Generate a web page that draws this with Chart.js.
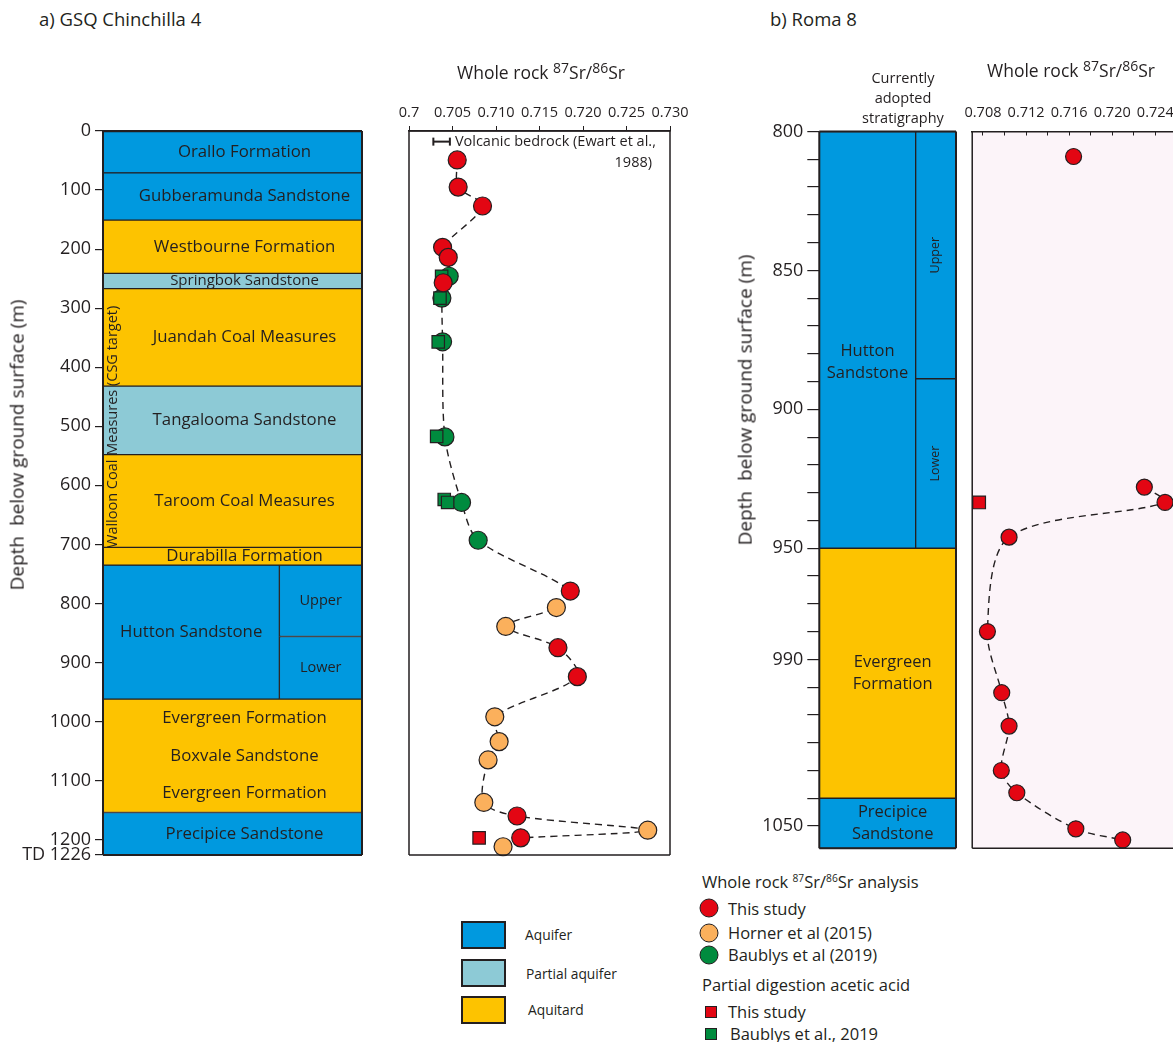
<!DOCTYPE html>
<html lang="en">
<head>
<meta charset="utf-8">
<title>Whole rock 87Sr/86Sr – GSQ Chinchilla 4 and Roma 8</title>
<script src="https://cdn.jsdelivr.net/npm/chart.js@4.4.1/dist/chart.umd.min.js"></script>
<style>
  html, body { margin: 0; padding: 0; width: 1173px; height: 1042px; overflow: hidden; background: #fff; }
  body { position: relative; font-family: 'Open Sans', 'DejaVu Sans', sans-serif; color: #231f20; }
  canvas { position: absolute; }
  .t { position: absolute; white-space: pre; line-height: 1.2; transform: translateY(-50%); }
  .c { transform: translate(-50%, -50%); text-align: center; }
  .v { transform: translate(-50%, -50%) rotate(-90deg); }
  sup { font-size: 0.8em; vertical-align: 0.42em; line-height: 0; }
  sup.s { font-size: 0.62em; vertical-align: 0.55em; }
  .sw { position: absolute; box-sizing: border-box; width: 45px; height: 28px; border: 2px solid #231f20; }
  .dot, .sq { position: absolute; box-sizing: border-box; border: 1.3px solid #231f20; transform: translate(-50%, -50%); }
  .dot { width: 19px; height: 19px; border-radius: 50%; }
  .sq { width: 12px; height: 12px; }
</style>
</head>
<body>

<canvas id="colA" width="366" height="770" style="left:0;top:100px"></canvas>
<canvas id="srA" width="330" height="830" style="left:370px;top:40px"></canvas>
<canvas id="colB" width="260" height="770" style="left:700px;top:100px"></canvas>
<canvas id="srB" width="250" height="830" style="left:950px;top:40px"></canvas>

<div class="t" style="left:39px;top:19px;font-size:18.5px">a) GSQ Chinchilla 4</div>
<div class="t" style="left:770px;top:19px;font-size:18.5px">b) Roma 8</div>
<div class="t c" style="left:541px;top:72px;font-size:17.5px">Whole rock <sup>87</sup>Sr/<sup>86</sup>Sr</div>
<div class="t" style="left:987px;top:70px;font-size:17.5px">Whole rock <sup>87</sup>Sr/<sup>86</sup>Sr</div>
<div class="t c" style="left:903px;top:98px;font-size:14.5px;line-height:20px">Currently
adopted
stratigraphy</div>
<div class="t v" style="left:17px;top:445px;font-size:19px">Depth  below ground surface (m)</div>
<div class="t v" style="left:745px;top:400px;font-size:19px">Depth  below ground surface (m)</div>

<!-- hydrostratigraphy key -->
<div class="sw" data-fill="aquifer" style="left:461px;top:921px"></div>
<div class="sw" data-fill="partial" style="left:461px;top:959px"></div>
<div class="sw" data-fill="aquitard" style="left:461px;top:996px"></div>
<div class="t" style="left:525px;top:935px;font-size:13.8px">Aquifer</div>
<div class="t" style="left:526px;top:974px;font-size:13.8px">Partial aquifer</div>
<div class="t" style="left:528px;top:1010px;font-size:13.8px">Aquitard</div>

<!-- sample key -->
<div class="t" style="left:702px;top:882px;font-size:16.5px">Whole rock <sup class="s">87</sup>Sr/<sup class="s">86</sup>Sr analysis</div>
<div class="dot" data-fill="thisStudy" style="left:709px;top:908px"></div>
<div class="t" style="left:728px;top:909px;font-size:16.5px">This study</div>
<div class="dot" data-fill="horner" style="left:709px;top:933px"></div>
<div class="t" style="left:728px;top:933px;font-size:16.5px">Horner et al (2015)</div>
<div class="dot" data-fill="baublys" style="left:709px;top:955px"></div>
<div class="t" style="left:728px;top:955px;font-size:16.5px">Baublys et al (2019)</div>
<div class="t" style="left:702px;top:985px;font-size:16.5px">Partial digestion acetic acid</div>
<div class="sq" data-fill="thisStudy" style="left:711px;top:1012px"></div>
<div class="t" style="left:728px;top:1012px;font-size:16.5px">This study</div>
<div class="sq" data-fill="baublys" style="left:711px;top:1034px"></div>
<div class="t" style="left:730px;top:1034px;font-size:16.5px">Baublys et al., 2019</div>

<script>
// ---------------------------------------------------------------------------
// Stratigraphy, depths in m below ground surface
// ---------------------------------------------------------------------------
const chinLayers = [
  { name: 'Orallo Formation',       top: 0,    base: 71,   kind: 'aquifer',  span: 'full' },
  { name: 'Gubberamunda Sandstone', top: 71,   base: 151,  kind: 'aquifer',  span: 'full' },
  { name: 'Westbourne Formation',   top: 151,  base: 241,  kind: 'aquitard', span: 'full' },
  { name: 'Springbok Sandstone',    top: 241,  base: 267,  kind: 'partial',  span: 'full' },
  { name: 'Juandah Coal Measures',  top: 267,  base: 432,  kind: 'aquitard', span: 'full' },
  { name: 'Tangalooma Sandstone',   top: 432,  base: 548,  kind: 'partial',  span: 'full' },
  { name: 'Taroom Coal Measures',   top: 548,  base: 705,  kind: 'aquitard', span: 'full' },
  { name: 'Durabilla Formation',    top: 705,  base: 735,  kind: 'aquitard', span: 'full' },
  { name: 'Hutton Sandstone',       top: 735,  base: 962,  kind: 'aquifer',  span: 'unit' },
  { name: 'Upper',                  top: 735,  base: 856,  kind: 'aquifer',  span: 'member' },
  { name: 'Lower',                  top: 856,  base: 962,  kind: 'aquifer',  span: 'member' },
  { name: ['Evergreen Formation', 'Boxvale Sandstone', 'Evergreen Formation'],
                                    top: 962,  base: 1154, kind: 'aquitard', span: 'full' },
  { name: 'Precipice Sandstone',    top: 1154, base: 1226, kind: 'aquifer',  span: 'full' }
];
const chinWalloon = { name: 'Walloon Coal Measures (CSG target)', top: 267, base: 735 };

const romaLayers = [
  { name: 'Hutton\nSandstone',    top: 800,  base: 950,  kind: 'aquifer',  span: 'unit' },
  { name: 'Upper',                top: 800,  base: 889,  kind: 'aquifer',  span: 'member' },
  { name: 'Lower',                top: 889,  base: 950,  kind: 'aquifer',  span: 'member' },
  { name: 'Evergreen\nFormation', top: 950,  base: 1040, kind: 'aquitard', span: 'full' },
  { name: 'Precipice\nSandstone', top: 1040, base: 1058, kind: 'aquifer',  span: 'full' }
];

// ---------------------------------------------------------------------------
// Whole rock 87Sr/86Sr, GSQ Chinchilla 4
// ---------------------------------------------------------------------------
const chinThisStudySr    = [0.70554, 0.70565, 0.70845, 0.70386, 0.70451, 0.70393, 0.71854, 0.71712, 0.71935, 0.71242, 0.71284];
const chinThisStudyDepth = [49, 95, 127, 197, 214, 257, 779, 875, 924, 1160, 1197];
const chinHornerSr       = [0.71694, 0.71112, 0.70986, 0.71036, 0.70909, 0.70860, 0.72744, 0.71081];
const chinHornerDepth    = [807, 839, 992, 1034, 1065, 1137, 1184, 1212];
const chinBaublysSr      = [0.70462, 0.70378, 0.70386, 0.70413, 0.70604, 0.70795];
const chinBaublysDepth   = [246, 283, 357, 518, 629, 693];
// partial digestion in acetic acid
const chinAceticSr           = [0.70806];
const chinAceticDepth        = [1197];
const chinAceticBaublysSr    = [0.70375, 0.70356, 0.70336, 0.70318, 0.70405, 0.70444];
const chinAceticBaublysDepth = [246, 283, 357, 517, 624, 629];
// volcanic bedrock range, Ewart et al. (1988)
const volcanicSr = [0.7028, 0.7047];
const volcanicDepth = 18;

// ---------------------------------------------------------------------------
// Whole rock 87Sr/86Sr, Roma 8
// ---------------------------------------------------------------------------
const romaThisStudySr    = [0.71641, 0.72298, 0.72490, 0.71042, 0.70841, 0.70974, 0.71042, 0.70970, 0.71114, 0.71662, 0.72097];
const romaThisStudyDepth = [809, 928, 933.5, 946, 980, 1002, 1014, 1030, 1038, 1051, 1055];
const romaAceticSr       = [0.70764];
const romaAceticDepth    = [933.5];

// ---------------------------------------------------------------------------
// Axis ticks
// ---------------------------------------------------------------------------
const chinDepthTicks = [0, 100, 200, 300, 400, 500, 600, 700, 800, 900, 1000, 1100, 1200, 1226];
const chinSrTicks    = [0.700, 0.705, 0.710, 0.715, 0.720, 0.725, 0.730];
const romaDepthLabels = [800, 850, 900, 950, 990, 1050];
const romaSrTicks    = [0.708, 0.710, 0.712, 0.714, 0.716, 0.718, 0.720, 0.722, 0.724, 0.726];
const romaSrLabels   = [0.708, 0.712, 0.716, 0.720, 0.724];

// ---------------------------------------------------------------------------
// Styling
// ---------------------------------------------------------------------------
const INK = '#231f20';
const FONT = "'Open Sans', 'DejaVu Sans', sans-serif";
const COLORS = {
  aquifer: '#0099df', partial: '#8dcad6', aquitard: '#fdc300',
  thisStudy: '#e30613', horner: '#fbb05c', baublys: '#008b3e'
};

Chart.defaults.font.family = FONT;
Chart.defaults.color = INK;

document.querySelectorAll('[data-fill]').forEach(el => {
  el.style.background = COLORS[el.dataset.fill];
});

const pts = (sr, depth) => sr.map((v, i) => ({ x: v, y: depth[i] }));

// dashed profile joining whole rock samples in depth order
function profile(groups, keep) {
  return groups.flatMap(([sr, depth]) => pts(sr, depth))
    .filter(keep)
    .sort((a, b) => a.y - b.y);
}

function markers(sr, depth, color, style, radius, order) {
  return {
    data: pts(sr, depth),
    pointStyle: style,
    pointRadius: radius,
    backgroundColor: color,
    pointBackgroundColor: color,
    pointBorderColor: INK,
    pointBorderWidth: 1.2,
    order,
    clip: false
  };
}

function dashed(data) {
  return {
    data, showLine: true, borderColor: INK, borderWidth: 1.4, borderDash: [7, 5],
    pointRadius: 0, tension: 0.3, order: 10, clip: false
  };
}

// outline (and optional fill) of the chart area
function framePlugin({ width = 1.5, sides = 'trbl', fill = null } = {}) {
  return {
    id: 'frame',
    beforeDraw(chart) {
      if (!fill) return;
      const { ctx, chartArea: a } = chart;
      ctx.save();
      ctx.fillStyle = fill;
      ctx.fillRect(a.left, a.top, a.right - a.left, a.bottom - a.top);
      ctx.restore();
    },
    afterDatasetsDraw(chart) {
      const { ctx, chartArea: a } = chart;
      ctx.save();
      ctx.strokeStyle = INK;
      ctx.lineWidth = width;
      ctx.beginPath();
      if (sides.includes('t')) { ctx.moveTo(a.left, a.top); ctx.lineTo(a.right, a.top); }
      if (sides.includes('r')) { ctx.moveTo(a.right, a.top); ctx.lineTo(a.right, a.bottom); }
      if (sides.includes('b')) { ctx.moveTo(a.left, a.bottom); ctx.lineTo(a.right, a.bottom); }
      if (sides.includes('l')) { ctx.moveTo(a.left, a.top); ctx.lineTo(a.left, a.bottom); }
      ctx.stroke();
      ctx.restore();
    }
  };
}

// formation names written into the column
function stratLabelPlugin(cfg) {
  return {
    id: 'stratLabels',
    afterDatasetsDraw(chart) {
      const { ctx, scales: { x, y }, chartArea } = chart;
      ctx.save();
      ctx.fillStyle = INK;
      ctx.textAlign = 'center';
      ctx.textBaseline = 'middle';
      cfg.layers.forEach(layer => {
        const [f0, f1] = cfg.spans[layer.span];
        const yTop = y.getPixelForValue(layer.top);
        const yBase = y.getPixelForValue(layer.base);
        const member = layer.span === 'member';
        let cx = (x.getPixelForValue(f0) + x.getPixelForValue(f1)) / 2;
        if (layer.span === 'full') cx += cfg.shift;
        const size = member ? cfg.memberSize : (yBase - yTop < 17 ? cfg.smallSize : cfg.size);
        ctx.font = `${size}px ${FONT}`;

        if (Array.isArray(layer.name)) {
          // several units share one box: spread their names evenly down it
          const n = layer.name.length;
          layer.name.forEach((t, i) => ctx.fillText(t, cx, yTop + (yBase - yTop) * (2 * i + 1) / (2 * n)));
          return;
        }
        const at = cfg.labelAt && cfg.labelAt[layer.name];
        const cy = at !== undefined ? y.getPixelForValue(at) : (yTop + yBase) / 2;
        if (member && cfg.rotateMembers) {
          ctx.save();
          ctx.translate(cx, cy);
          ctx.rotate(-Math.PI / 2);
          ctx.fillText(layer.name, 0, 0);
          ctx.restore();
          return;
        }
        const lines = layer.name.split('\n');
        const lh = size * 1.3;
        lines.forEach((t, i) => ctx.fillText(t, cx, cy + (i - (lines.length - 1) / 2) * lh));
      });

      if (cfg.group) {
        const cy = (y.getPixelForValue(cfg.group.top) + y.getPixelForValue(cfg.group.base)) / 2;
        ctx.font = `${cfg.groupSize}px ${FONT}`;
        ctx.translate(chartArea.left + 10, cy);
        ctx.rotate(-Math.PI / 2);
        ctx.fillText(cfg.group.name, 0, 0);
      }
      ctx.restore();
    }
  };
}

function columnChart(id, layers, cfg) {
  const datasets = Object.entries(cfg.spans).map(([span, [f0, f1]]) => {
    const rows = layers.filter(l => l.span === span);
    return {
      data: rows.map(l => ({ x: (f0 + f1) / 2, y: [l.top, l.base] })),
      backgroundColor: rows.map(l => COLORS[l.kind]),
      borderColor: INK,
      borderWidth: 1,
      borderSkipped: false,
      grouped: false,
      barThickness: (f1 - f0) * cfg.areaWidth,
      clip: false
    };
  }).filter(ds => ds.data.length);

  return new Chart(document.getElementById(id), {
    type: 'bar',
    data: { datasets },
    options: {
      responsive: false,
      animation: false,
      events: [],
      layout: { padding: cfg.padding },
      plugins: { legend: { display: false }, tooltip: { enabled: false } },
      scales: {
        x: { type: 'linear', min: 0, max: 1, offset: false, display: false },
        y: {
          type: 'linear', reverse: true, min: cfg.min, max: cfg.max,
          afterFit: s => { s.width = cfg.axisWidth; },
          afterBuildTicks: s => { s.ticks = cfg.ticks.map(v => ({ value: v })); },
          ticks: { autoSkip: false, padding: 4, font: { size: 18 }, color: INK, callback: cfg.tickLabel },
          grid: { drawOnChartArea: false, tickLength: cfg.tickLength, color: INK, lineWidth: 1.2 },
          border: { display: false }
        }
      }
    },
    plugins: [framePlugin({ width: 2 }), stratLabelPlugin(cfg.labels)]
  });
}

function srChart(id, cfg) {
  return new Chart(document.getElementById(id), {
    type: 'scatter',
    data: { datasets: cfg.datasets },
    options: {
      responsive: false,
      animation: false,
      events: [],
      layout: { padding: cfg.padding },
      plugins: { legend: { display: false }, tooltip: { enabled: false } },
      scales: {
        x: {
          type: 'linear', position: 'top', min: cfg.xMin, max: cfg.xMax,
          afterFit: s => { s.height = cfg.axisHeight; },
          afterBuildTicks: s => { s.ticks = cfg.ticks.map(v => ({ value: v })); },
          ticks: { autoSkip: false, maxRotation: 0, padding: cfg.labelPad, font: { size: 14.5 }, color: INK, callback: cfg.tickLabel },
          grid: { drawOnChartArea: false, tickLength: cfg.tickLength, color: INK, lineWidth: 1 },
          border: { display: true, color: INK, width: 1.5 }
        },
        y: { type: 'linear', display: false, reverse: true, min: cfg.yMin, max: cfg.yMax }
      }
    },
    plugins: cfg.plugins
  });
}

// ---------------------------------------------------------------------------
// a) GSQ Chinchilla 4
// ---------------------------------------------------------------------------
const chinSpans = { full: [0, 1], unit: [0, 0.681], member: [0.681, 1] };

columnChart('colA', chinLayers, {
  spans: chinSpans,
  areaWidth: 259,
  axisWidth: 103,
  padding: { top: 31, right: 4, bottom: 15, left: 0 },
  min: 0, max: 1226,
  ticks: chinDepthTicks,
  tickLength: 8,
  tickLabel: v => (v === 1226 ? 'TD 1226' : String(v)),
  labels: {
    layers: chinLayers, spans: chinSpans, shift: 12,
    size: 16.8, smallSize: 15, memberSize: 14.5, rotateMembers: false,
    group: chinWalloon, groupSize: 14.5
  }
});

const chinVolcanicNote = {
  id: 'volcanicNote',
  afterDatasetsDraw(chart) {
    const { ctx, scales: { x, y }, chartArea } = chart;
    const px = x.getPixelForValue(volcanicSr[1]) + 5;
    const py = y.getPixelForValue(volcanicDepth);
    ctx.save();
    ctx.fillStyle = INK;
    ctx.font = `14.5px ${FONT}`;
    ctx.textBaseline = 'middle';
    ctx.textAlign = 'left';
    ctx.fillText('Volcanic bedrock (Ewart et al.,', px, py);
    ctx.textAlign = 'right';
    ctx.fillText('1988)', chartArea.right - 18, py + 21);
    ctx.restore();
  }
};

srChart('srA', {
  padding: { top: 0, right: 30, bottom: 15, left: 39 },
  axisHeight: 91,
  xMin: 0.7, xMax: 0.73,
  yMin: 0, yMax: 1226,
  ticks: chinSrTicks,
  tickLength: 5,
  labelPad: 4,
  tickLabel: v => (v === 0.7 ? '0.7' : v.toFixed(3)),
  datasets: [
    dashed(profile(
      [[chinThisStudySr, chinThisStudyDepth], [chinHornerSr, chinHornerDepth], [chinBaublysSr, chinBaublysDepth]],
      p => p.y <= Math.max(...chinThisStudyDepth)
    )),
    {
      data: volcanicSr.map(v => ({ x: v, y: volcanicDepth })),
      showLine: true, borderColor: INK, borderWidth: 2,
      pointStyle: 'line', rotation: 90, pointRadius: 4,
      pointBorderColor: INK, pointBorderWidth: 2, order: 9, clip: false
    },
    markers(chinBaublysSr, chinBaublysDepth, COLORS.baublys, 'circle', 9, 6),
    markers(chinAceticBaublysSr, chinAceticBaublysDepth, COLORS.baublys, 'rect', 8.8, 5),
    markers(chinThisStudySr, chinThisStudyDepth, COLORS.thisStudy, 'circle', 9, 4),
    markers(chinHornerSr, chinHornerDepth, COLORS.horner, 'circle', 9, 3),
    markers(chinAceticSr, chinAceticDepth, COLORS.thisStudy, 'rect', 8.8, 2)
  ],
  plugins: [framePlugin({ width: 1.5 }), chinVolcanicNote]
});

// ---------------------------------------------------------------------------
// b) Roma 8
// ---------------------------------------------------------------------------
const romaSpans = { full: [0, 1], unit: [0, 0.705], member: [0.705, 1] };
const romaDepthTicks = [];
for (let d = 800; d <= 1050; d += 10) romaDepthTicks.push(d);

columnChart('colB', romaLayers, {
  spans: romaSpans,
  areaWidth: 136.7,
  axisWidth: 119.3,
  padding: { top: 31.5, right: 4, bottom: 21.7, left: 0 },
  min: 800, max: 1058,
  ticks: romaDepthTicks,
  tickLength: 12,
  tickLabel: v => (romaDepthLabels.includes(v) ? String(v) : ''),
  labels: {
    layers: romaLayers, spans: romaSpans, shift: 5,
    size: 16.5, smallSize: 15, memberSize: 12.5, rotateMembers: true,
    labelAt: { 'Hutton\nSandstone': 883 }
  }
});

srChart('srB', {
  padding: { top: 0, right: 9, bottom: 21.7, left: 6 },
  axisHeight: 91.5,
  xMin: 0.707, xMax: 0.7272,
  yMin: 800, yMax: 1058,
  ticks: romaSrTicks,
  tickLength: -4,
  labelPad: 14,
  tickLabel: v => (romaSrLabels.some(l => Math.abs(l - v) < 1e-9) ? v.toFixed(3) : ''),
  datasets: [
    // the upper Hutton sample stands apart from the profile
    dashed(profile([[romaThisStudySr, romaThisStudyDepth]], p => p.y > romaThisStudyDepth[0])),
    markers(romaThisStudySr, romaThisStudyDepth, COLORS.thisStudy, 'circle', 8, 3),
    markers(romaAceticSr, romaAceticDepth, COLORS.thisStudy, 'rect', 9, 2)
  ],
  plugins: [framePlugin({ width: 1.5, sides: 'bl', fill: '#fcf4f9' })]
});
</script>
</body>
</html>
